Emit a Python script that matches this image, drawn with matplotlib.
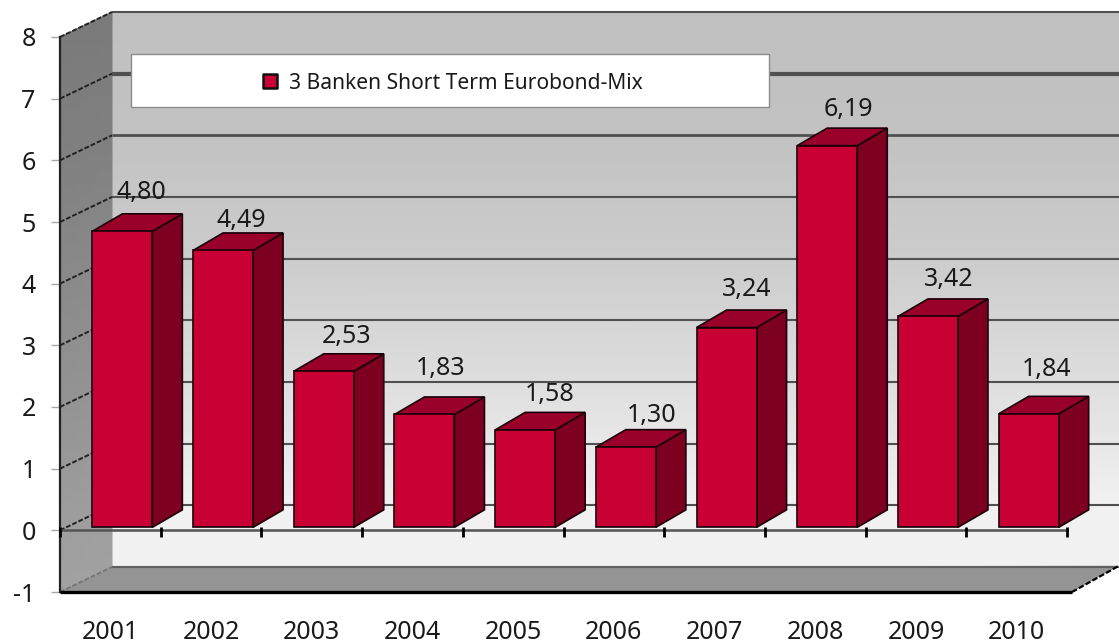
import matplotlib
matplotlib.use('Agg')
import matplotlib.pyplot as plt
import numpy as np
from matplotlib.patches import Polygon, Rectangle

years = ['2001', '2002', '2003', '2004', '2005', '2006', '2007', '2008', '2009', '2010']
values = [4.80, 4.49, 2.53, 1.83, 1.58, 1.30, 3.24, 6.19, 3.42, 1.84]
labels = ['4,80', '4,49', '2,53', '1,83', '1,58', '1,30', '3,24', '6,19', '3,42', '1,84']
y_levels = [-1, 0, 1, 2, 3, 4, 5, 6, 7, 8]
series_name = '3 Banken Short Term Eurobond-Mix'

# nudges of the value labels, in pixels
label_dx = [19, 18, 23, 16, 25, 26, 20, 21, 21, 18]
label_dy = [39, 30, 35, 46, 35, 32, 38, 36, 37, 44]

plt.rcParams['font.family'] = ['Noto Sans', 'DejaVu Sans']

W, H = 1119, 644
fig = plt.figure(figsize=(W / 100, H / 100), dpi=100)
# front plane of the fake 3D box
ax = fig.add_axes([60 / W, (H - 592) / H, (1067 - 60) / W, (592 - 37) / H])
ax.patch.set_visible(False)
for s in ax.spines.values():
    s.set_visible(False)

px_x = 10 / (1067 - 60)
px_y = 9 / (592 - 37)
dep_x = 52 * px_x
dep_y = 25 * px_y
right_x = (1119 - 60) * px_x

# walls
yy = np.array([-1, 0, 2, 4, 6, 8])
back_y = yy + dep_y
back_c = np.array([0.945, 0.945, 0.87, 0.80, 0.76, 0.75])
xx_back = np.array([dep_x, right_x])
ax.pcolormesh(np.tile(xx_back, (6, 1)), np.column_stack([back_y, back_y]),
              np.column_stack([back_c, back_c]), shading='gouraud', cmap='gray',
              vmin=0, vmax=1, clip_on=False, zorder=1)
left_c = np.array([0.63, 0.62, 0.58, 0.54, 0.50, 0.48])
ax.pcolormesh(np.column_stack([np.zeros(6), np.full(6, dep_x)]),
              np.column_stack([yy, back_y]),
              np.column_stack([left_c, left_c]), shading='gouraud', cmap='gray',
              vmin=0, vmax=1, clip_on=False, zorder=1)
ax.add_patch(Polygon([(0, -1), (10.05, -1), (right_x, -1 + dep_y + 0.02), (dep_x, -1 + dep_y)],
                     closed=True, fc='#949494', ec='none', clip_on=False, zorder=2))

# grid lines on back and left walls
for v in y_levels:
    lw = 3.0 if v == 7 else (2.0 if v == 6 else 1.5)
    col = '#606060' if v == -1 else '#505050'
    ax.plot([dep_x, right_x], [v + dep_y, v + dep_y], color=col, lw=lw,
            solid_capstyle='butt', clip_on=False, zorder=3)
    ax.plot([0, dep_x], [v, v + dep_y], color='#777777' if v == -1 else '#222222',
            lw=1.4, ls=(0, (2.5, 1)), clip_on=False, zorder=3)

# left edge, bottom edge and right corner
ax.plot([0, 0], [-1, 8], color='#222222', lw=1.6, clip_on=False, zorder=4)
ax.plot([0, 10.05], [-1, -1], color='black', lw=2.4, solid_capstyle='butt', clip_on=False, zorder=4)
ax.plot([10.05, right_x], [-1, -1 + dep_y + 0.02], color='black', lw=1.6, ls=(0, (2.5, 1)),
        clip_on=False, zorder=4)

# x axis on the zero level
ax.plot([0, 10], [0, 0], color='#555555', lw=1.8, clip_on=False, zorder=5)
ax.vlines(np.arange(0, 11), -0.10, 0.05, color='black', lw=2, clip_on=False, zorder=5)

# bars
bar_w = 60 * px_x
bar_shift = 12 * px_x
base = 3 * px_y
side_x = 30 * px_x
side_y = 17.5 * px_y
x_pos = np.arange(len(years)) + 0.5 + bar_shift
ax.bar(x_pos, values, width=bar_w, bottom=base, color='#c90033', edgecolor='#1a0008',
       linewidth=1.2, clip_on=False, zorder=7)
for x, v in zip(x_pos, values):
    l = x - bar_w / 2
    r = x + bar_w / 2
    t = v + base
    ax.add_patch(Polygon([(r, base), (r + side_x, base + side_y), (r + side_x, t + side_y), (r, t)],
                         closed=True, fc='#7d0020', ec='#1a0008', lw=1.2, clip_on=False, zorder=6))
    ax.add_patch(Polygon([(l, t), (l + side_x, t + side_y), (r + side_x, t + side_y), (r, t)],
                         closed=True, fc='#99002a', ec='#1a0008', lw=1.2, clip_on=False, zorder=6))

for x, v, s, dx, dy in zip(x_pos, values, labels, label_dx, label_dy):
    ax.annotate(s, (x, v + base), xytext=(dx, dy), textcoords='offset pixels',
                ha='center', va='center', fontsize=18, color='#1a1a1a', zorder=9)

# legend box
ax.add_patch(Rectangle((71 * px_x, 8 - 70 * px_y), 638 * px_x, 53 * px_y, fc='white',
                       ec='#8c8c8c', lw=1, clip_on=False, zorder=8))
ax.scatter([210 * px_x], [8 - 44 * px_y], marker='s', s=88, color='#c90033', edgecolors='#111111',
           linewidths=1.8, clip_on=False, zorder=9)
ax.text(229 * px_x, 8 - 46.5 * px_y, series_name, fontsize=15.1, color='#1a1a1a', ha='left',
        va='center', zorder=9)

# axis ticks and labels
ax.set_xlim(0, 10)
ax.set_ylim(-1, 8)
ax.set_xticks(np.arange(len(years)) + 0.5)
ax.set_xticklabels(years, fontsize=18, color='#1a1a1a')
ax.tick_params(axis='x', length=0, pad=20)
ax.set_yticks(y_levels)
ax.set_yticklabels([str(v) for v in y_levels], fontsize=18, color='#1a1a1a')
ax.tick_params(axis='y', length=6.5, width=1, color='#a8a8a8', pad=11)

fig.savefig('out.png', dpi=100)
